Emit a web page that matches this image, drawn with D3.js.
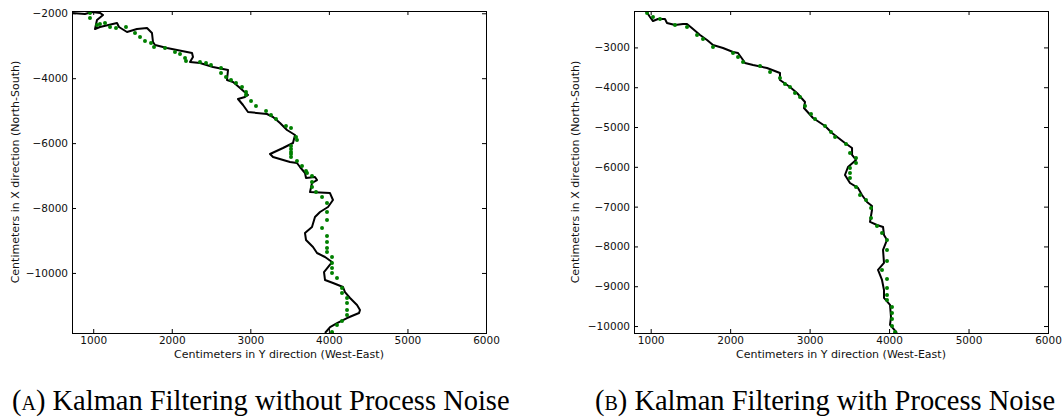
<!DOCTYPE html>
<html>
<head>
<meta charset="utf-8">
<script src="https://cdn.jsdelivr.net/npm/d3@7"></script>
<style>
  body { margin: 0; background: #fff; }
  svg { display: block; }
</style>
</head>
<body>
<svg id="chart" width="1064" height="419"></svg>
<script>
// [Y (west-east), X (north-south)] in centimeters
const trackA = [
  [730,-1990],[895,-2020],[985,-1960],[1086,-1990],[1125,-2053],[1048,-2207],[1023,-2485],[1086,-2423],
  [1303,-2300],[1328,-2423],[1430,-2577],[1557,-2485],[1685,-2454],[1748,-2608],[1761,-2885],[1787,-2978],
  [1939,-3070],[2258,-3224],[2270,-3347],[2232,-3501],[2359,-3532],[2525,-3655],[2716,-3748],[2703,-4056],
  [2780,-4118],[2869,-4302],[2970,-4518],[2932,-4580],[2843,-4641],[2907,-4826],[2970,-5042],[3212,-5103],
  [3289,-5196],[3378,-5381],[3467,-5596],[3569,-5750],[3543,-5997],[3416,-6151],[3251,-6336],[3289,-6428],
  [3505,-6582],[3594,-6613],[3632,-6736],[3696,-6921],[3709,-7075],[3823,-7045],[3849,-7137],[3785,-7229],
  [3760,-7507],[4014,-7538],[4052,-7753],[3989,-7969],[3887,-8123],[3823,-8277],[3785,-8585],[3696,-8770],
  [3709,-8985],[3798,-9201],[3849,-9386],[3951,-9509],[4040,-9663],[3989,-9817],[3938,-9971],[3951,-10218],
  [4053,-10310],[4180,-10433],[4205,-10588],[4269,-10772],[4358,-10988],[4396,-11142],[4384,-11235],
  [4231,-11389],[4104,-11543],[4015,-11666],[3951,-11850]
];
const filteredA = [
  [959,-1992],[959,-2146],[1048,-2361],[1086,-2331],[1150,-2300],[1214,-2423],[1290,-2454],[1417,-2423],
  [1532,-2608],[1596,-2731],[1659,-2854],[1736,-2916],[1774,-3039],[1914,-3070],[2041,-3193],[2105,-3255],
  [2169,-3378],[2181,-3471],[2359,-3501],[2436,-3532],[2499,-3594],[2627,-3686],[2627,-3840],[2690,-3963],
  [2754,-4056],[2818,-4148],[2894,-4272],[2945,-4426],[2945,-4518],[3009,-4703],[3072,-4857],[3200,-5011],
  [3263,-5134],[3327,-5257],[3454,-5473],[3518,-5535],[3582,-5812],[3594,-5904],[3518,-6089],[3518,-6182],
  [3518,-6274],[3518,-6336],[3518,-6428],[3594,-6552],[3658,-6706],[3709,-6860],[3722,-6921],[3785,-7014],
  [3785,-7199],[3785,-7353],[3836,-7507],[3913,-7661],[3976,-7846],[3976,-8123],[3976,-8369],[3913,-8616],
  [3976,-8862],[3976,-9047],[3976,-9232],[3976,-9355],[4040,-9509],[4040,-9694],[4040,-9848],[4040,-10002],
  [4103,-10156],[4167,-10464],[4167,-10618],[4231,-10772],[4231,-10926],[4231,-11142],[4231,-11296],
  [4167,-11481],[4103,-11604],[4040,-11820]
];
const trackB = [
  [941,-2085],[991,-2236],[1029,-2337],[1092,-2286],[1180,-2286],[1205,-2386],[1306,-2437],[1407,-2412],
  [1457,-2412],[1533,-2537],[1621,-2688],[1709,-2813],[1784,-2939],[1910,-3014],[2036,-3115],[2099,-3140],
  [2162,-3316],[2187,-3391],[2288,-3441],[2464,-3517],[2627,-3642],[2627,-3818],[2753,-3994],[2841,-4145],
  [2942,-4371],[2929,-4522],[3043,-4773],[3194,-4974],[3282,-5150],[3445,-5401],[3534,-5526],[3534,-5702],
  [3584,-5828],[3483,-6004],[3445,-6205],[3508,-6406],[3609,-6531],[3659,-6707],[3722,-6883],[3785,-6983],
  [3785,-7084],[3760,-7385],[3848,-7461],[3924,-7511],[3936,-7712],[3974,-7837],[3924,-8089],[3936,-8415],
  [3861,-8591],[3911,-8842],[3936,-9093],[3936,-9294],[4012,-9470],[4024,-9772],[4012,-9972],[4100,-10174]
];
const filteredB = [
  [954,-2135],[1029,-2236],[1117,-2286],[1306,-2437],[1457,-2487],[1583,-2688],[1658,-2788],[1784,-2989],
  [2036,-3140],[2099,-3241],[2162,-3366],[2376,-3467],[2502,-3617],[2627,-3768],[2690,-3919],[2753,-3994],
  [2816,-4145],[2879,-4245],[2942,-4471],[3018,-4672],[3068,-4798],[3194,-4974],[3269,-5125],[3320,-5250],
  [3458,-5426],[3508,-5652],[3584,-5778],[3584,-5903],[3508,-6029],[3508,-6154],[3508,-6280],[3584,-6506],
  [3634,-6707],[3710,-6833],[3773,-7034],[3773,-7285],[3848,-7486],[3911,-7662],[3974,-7837],[3974,-8089],
  [3974,-8365],[3911,-8591],[3974,-8817],[3974,-9043],[3974,-9219],[3974,-9345],[4037,-9521],[4037,-9671],
  [4037,-9822],[4037,-9998],[4075,-10149]
];

const xTicks = [1000, 2000, 3000, 4000, 5000, 6000];
const yTicksA = [-2000, -4000, -6000, -8000, -10000];
const yTicksB = [-3000, -4000, -5000, -6000, -7000, -8000, -9000, -10000];

const xDomainA = [730, 6000], yDomainA = [-11850, -1930];
const xDomainB = [790, 6000], yDomainB = [-10175, -2085];

const xLabel = 'Centimeters in Y direction (West-East)';
const yLabel = 'Centimeters in X direction (North-South)';
const captions = ['Kalman Filtering without Process Noise', 'Kalman Filtering with Process Noise'];

const svg = d3.select('#chart');
const fmt = d => (d < 0 ? '\u2212' : '') + d3.format('d')(Math.abs(d));
const sans = '"DejaVu Sans", Verdana, sans-serif';
const serif = '"Liberation Serif", "Times New Roman", serif';

function panel(id, left, track, filtered, xDomain, yDomain, yTicks, labelOffset) {
    const w = 414, h = 322, top = 11;
    const x = d3.scaleLinear().domain(xDomain).range([0, w]);
    const y = d3.scaleLinear().domain(yDomain).range([h, 0]);

    const g = svg.append('g').attr('transform', `translate(${left},${top})`);

    g.append('clipPath').attr('id', 'clip' + id)
        .append('rect').attr('width', w).attr('height', h);

    const tickStyle = s => s
        .call(a => a.select('.domain').remove())
        .call(a => a.selectAll('line').attr('stroke', '#000'))
        .call(a => a.selectAll('text').attr('fill', '#111')
            .style('font-family', sans).style('font-size', '10.5px'));

    g.append('g').attr('transform', `translate(0,${h})`)
        .call(d3.axisBottom(x).tickValues(xTicks).tickFormat(d3.format('d')).tickSizeInner(-4).tickSizeOuter(0).tickPadding(4))
        .call(tickStyle);
    g.append('g')
        .call(d3.axisTop(x).tickValues(xTicks).tickFormat('').tickSizeInner(-4).tickSizeOuter(0))
        .call(tickStyle);
    g.append('g')
        .call(d3.axisLeft(y).tickValues(yTicks).tickFormat(fmt).tickSizeInner(-4).tickSizeOuter(0).tickPadding(4))
        .call(tickStyle);
    g.append('g').attr('transform', `translate(${w},0)`)
        .call(d3.axisRight(y).tickValues(yTicks).tickFormat('').tickSizeInner(-4).tickSizeOuter(0))
        .call(tickStyle);

    const plot = g.append('g').attr('clip-path', `url(#clip${id})`);

    plot.append('path')
        .datum(track)
        .attr('fill', 'none')
        .attr('stroke', '#000')
        .attr('stroke-width', 2)
        .attr('stroke-linejoin', 'round')
        .attr('d', d3.line().x(d => x(d[0])).y(d => y(d[1])));

    plot.selectAll('circle')
        .data(filtered)
        .join('circle')
        .attr('cx', d => x(d[0]))
        .attr('cy', d => y(d[1]))
        .attr('r', 2)
        .attr('fill', '#008000');

    g.append('rect')
        .attr('x', 0.5).attr('y', 0.5).attr('width', w).attr('height', h)
        .attr('fill', 'none').attr('stroke', '#000').attr('stroke-width', 1);

    g.append('text')
        .attr('x', w / 2).attr('y', h + 25)
        .attr('text-anchor', 'middle')
        .style('font-family', sans).style('font-size', '11px').attr('fill', '#111')
        .text(xLabel);

    g.append('text')
        .attr('transform', `translate(${labelOffset},${h / 2}) rotate(-90)`)
        .attr('text-anchor', 'middle')
        .style('font-family', sans).style('font-size', '11px').attr('fill', '#111')
        .text(yLabel);
}

panel('A', 72, trackA, filteredA, xDomainA, yDomainA, yTicksA, -53);
panel('B', 634, trackB, filteredB, xDomainB, yDomainB, yTicksB, -55);

// captions under each panel, small-caps letter
const capX = [12, 595];
const caps = svg.selectAll('text.caption')
    .data(captions)
    .join('text')
    .attr('class', 'caption')
    .attr('x', (d, i) => capX[i]).attr('y', 410)
    .style('font-family', serif).style('font-size', '25px').attr('fill', '#000');
caps.append('tspan').text('(');
caps.append('tspan').style('font-variant', 'small-caps').text((d, i) => ['a', 'b'][i]);
caps.append('tspan').text(d => ') ' + d);

// fit caption A to the width it has in the figure, use same size for B
const wA = caps.node().getComputedTextLength();
const size = 25 * 498 / wA;
caps.style('font-size', size + 'px');
</script>
</body>
</html>
